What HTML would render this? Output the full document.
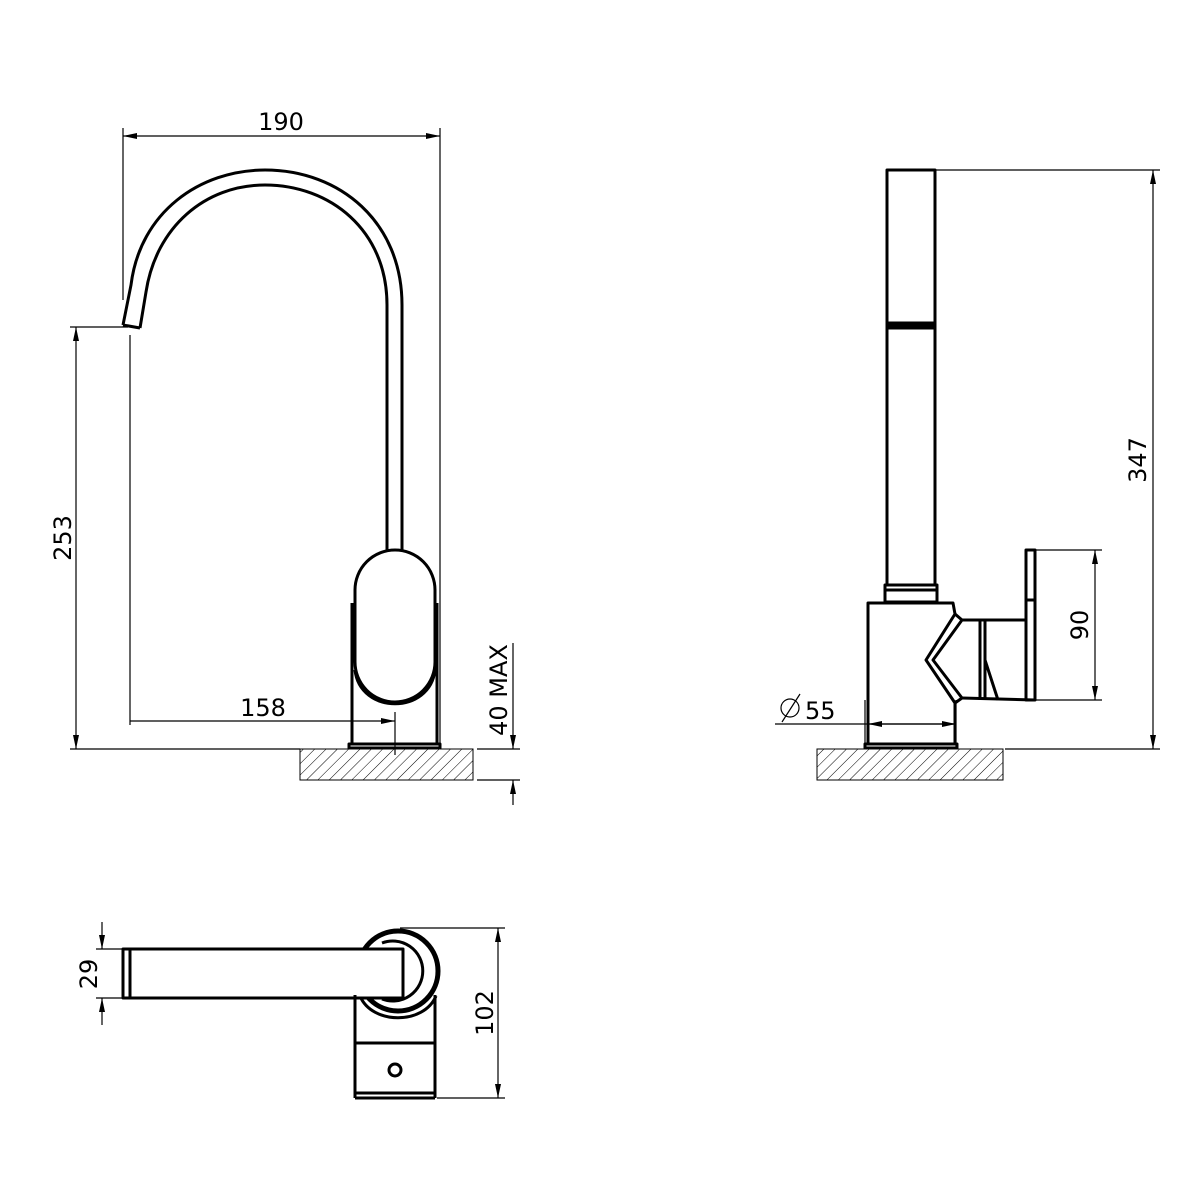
<!DOCTYPE html>
<html><head><meta charset="utf-8"><style>
html,body{margin:0;padding:0;background:#fff;}
svg{display:block;}
text{font-family:"DejaVu Sans","Liberation Sans",sans-serif;font-size:24px;fill:#000;}
</style></head><body>
<svg width="1200" height="1200" viewBox="0 0 1200 1200" xmlns="http://www.w3.org/2000/svg">
<defs>
<pattern id="h" width="8" height="8" patternUnits="userSpaceOnUse" patternTransform="rotate(45)">
<line x1="0" y1="0" x2="0" y2="8" stroke="#000" stroke-width="1"/>
</pattern>
<marker id="a" markerWidth="14" markerHeight="6" refX="14" refY="3" orient="auto-start-reverse" markerUnits="userSpaceOnUse">
<path d="M0,0 L14,3 L0,6 z" fill="#000"/>
</marker>
</defs>

<g fill="none" stroke="#000" stroke-width="1.2">
<line x1="123" y1="128" x2="123" y2="300"/>
<line x1="440" y1="128" x2="440" y2="745"/>
<line x1="123" y1="136" x2="440" y2="136" marker-start="url(#a)" marker-end="url(#a)"/>
<line x1="70" y1="327" x2="128" y2="327"/>
<line x1="70" y1="749" x2="300" y2="749"/>
<line x1="76" y1="327" x2="76" y2="749" marker-start="url(#a)" marker-end="url(#a)"/>
<line x1="130" y1="335" x2="130" y2="725"/>
<line x1="395" y1="712" x2="395" y2="755"/>
<line x1="130" y1="721" x2="395" y2="721" marker-end="url(#a)"/>
<line x1="477" y1="749" x2="520" y2="749"/>
<line x1="477" y1="780" x2="520" y2="780"/>
<line x1="513" y1="643" x2="513" y2="749" marker-end="url(#a)"/>
<line x1="513" y1="780" x2="513" y2="805" marker-start="url(#a)"/>

<line x1="936" y1="170" x2="1160" y2="170"/>
<line x1="1005" y1="749" x2="1160" y2="749"/>
<line x1="1153" y1="170" x2="1153" y2="749" marker-start="url(#a)" marker-end="url(#a)"/>
<line x1="1036" y1="550" x2="1102" y2="550"/>
<line x1="1036" y1="700" x2="1102" y2="700"/>
<line x1="1095" y1="550" x2="1095" y2="700" marker-start="url(#a)" marker-end="url(#a)"/>
<line x1="865" y1="700" x2="865" y2="748"/>
<line x1="956" y1="700" x2="956" y2="748"/>
<line x1="775" y1="724" x2="956" y2="724"/>
<line x1="868" y1="724" x2="956" y2="724" marker-start="url(#a)" marker-end="url(#a)"/>
<line x1="782" y1="722" x2="800" y2="694"/>

<line x1="96" y1="949" x2="123" y2="949"/>
<line x1="96" y1="998" x2="123" y2="998"/>
<line x1="102" y1="922" x2="102" y2="949" marker-end="url(#a)"/>
<line x1="102" y1="998" x2="102" y2="1025" marker-start="url(#a)"/>
<line x1="400" y1="928" x2="505" y2="928"/>
<line x1="437" y1="1098" x2="505" y2="1098"/>
<line x1="498" y1="928" x2="498" y2="1098" marker-start="url(#a)" marker-end="url(#a)"/>
</g>
<circle cx="790" cy="708" r="9" fill="none" stroke="#000" stroke-width="1.2"/>

<rect x="300" y="749" width="173" height="31" fill="url(#h)" stroke="#000" stroke-width="1"/>
<rect x="817" y="749" width="186" height="31" fill="url(#h)" stroke="#000" stroke-width="1"/>

<g fill="none" stroke="#000" stroke-width="3" stroke-linejoin="round">
<path d="M123,325 L131,285 C140,212 200,170 265,170 C340,170 402,222 402,305 L402,555"/>
<path d="M140,328 L146,292 C156,227 205,185 265,185 C330,185 387,230 387,305 L387,552"/>
<line x1="123" y1="325" x2="140" y2="328"/>
<path d="M355,590 A40,40 0 0 1 435,590 L435,662 A40,40 0 0 1 355,662 Z" fill="#fff"/>
<path d="M355,670 C360,715 430,715 435,670"/>
<line x1="352" y1="603" x2="352" y2="745"/>
<line x1="437" y1="603" x2="437" y2="745"/>
<rect x="349" y="744" width="91" height="4"/>

<rect x="887" y="170" width="48" height="415"/>
<rect x="887" y="323" width="48" height="5" fill="#000"/>
<rect x="885" y="585" width="52" height="17"/>
<line x1="885" y1="590" x2="937" y2="590"/>
<path d="M868,745 L868,603 L953,603 L955,614 L926,660 L955,703 L955,745"/>
<path d="M955,614 L962,620 L933,660 L962,698 L955,703"/>
<path d="M962,620 L1026,620"/>
<line x1="980" y1="620" x2="980" y2="700"/>
<line x1="985" y1="620" x2="985" y2="700"/>
<line x1="962" y1="698" x2="1035" y2="700"/>
<line x1="985" y1="660" x2="998" y2="700"/>
<rect x="1026" y="550" width="9" height="150"/>
<line x1="1026" y1="600" x2="1035" y2="600"/>
<rect x="865" y="744" width="92" height="4"/>

<circle cx="398" cy="971" r="40" stroke-width="5"/>
<path d="M382,943 A30,30 0 1 1 382,999"/>
<path d="M360,996 C372,1025 424,1025 436,996"/>
<rect x="123" y="949" width="280" height="49" fill="#fff"/>
<line x1="130" y1="949" x2="130" y2="998"/>
<line x1="403" y1="949" x2="403" y2="998"/>
<line x1="355" y1="995" x2="355" y2="1098"/>
<line x1="435" y1="995" x2="435" y2="1098"/>
<line x1="355" y1="1043" x2="435" y2="1043"/>
<line x1="355" y1="1093" x2="435" y2="1093"/>
<line x1="355" y1="1098" x2="435" y2="1098"/>
<circle cx="395" cy="1070" r="6"/>
</g>

<text x="281" y="130" text-anchor="middle">190</text>
<text x="263" y="716" text-anchor="middle">158</text>
<text transform="translate(71,538) rotate(-90)" text-anchor="middle">253</text>
<text transform="translate(507,690) rotate(-90)" text-anchor="middle">40 MAX</text>
<text transform="translate(1146,460) rotate(-90)" text-anchor="middle">347</text>
<text transform="translate(1088,625) rotate(-90)" text-anchor="middle">90</text>
<text x="805" y="719">55</text>
<text transform="translate(97,974) rotate(-90)" text-anchor="middle">29</text>
<text transform="translate(493,1013) rotate(-90)" text-anchor="middle">102</text>
</svg>
</body></html>
